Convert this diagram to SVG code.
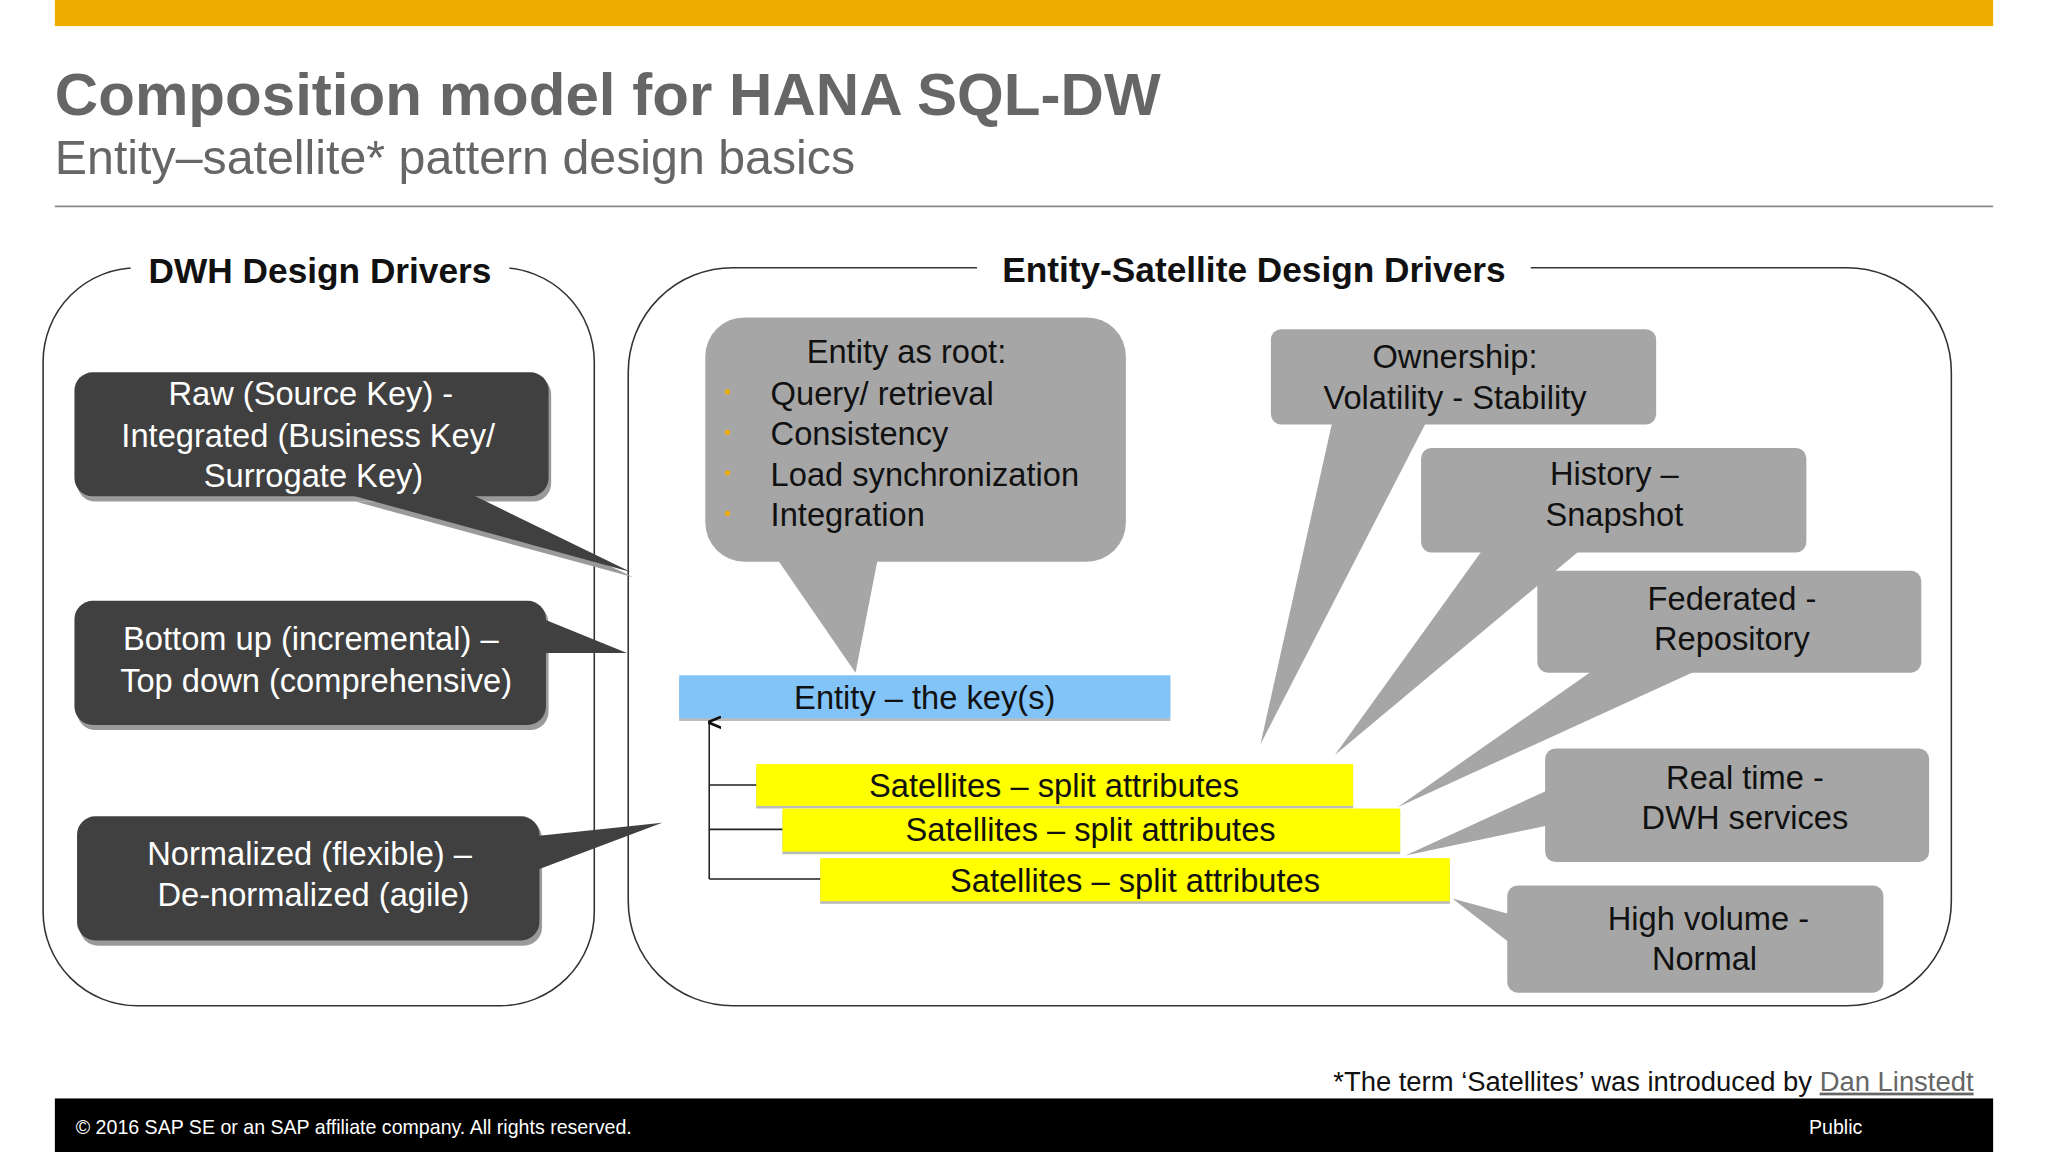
<svg xmlns="http://www.w3.org/2000/svg" width="2048" height="1152" viewBox="0 0 2048 1152">
<style>
text{font-family:"Liberation Sans",Arial,sans-serif}
.dk{fill:#404040}
.sh{fill:#9a9a9a}
.gr{fill:#a6a6a6}
.wt{fill:#fff;font-size:25px;text-anchor:middle}
.bt{fill:#111;font-size:25px;text-anchor:middle}
.frame{fill:none;stroke:#333;stroke-width:1.2}
.hd{font-size:27px;font-weight:bold;fill:#111;text-anchor:middle}
.cn{fill:none;stroke:#222;stroke-width:1.2}
</style>
<defs>
<marker id="ah" markerWidth="10" markerHeight="10" refX="5" refY="1" orient="auto" markerUnits="userSpaceOnUse">
<path d="M0,12 L5,0 L10,12" fill="none" stroke="#111" stroke-width="2"/>
</marker>
</defs>
<rect width="2048" height="1152" fill="#fff"/>
<g transform="scale(1.30612)">
<rect x="42" y="0" width="1484" height="20" fill="#F0AB00"/>
<text x="42" y="88" font-size="46" font-weight="bold" fill="#666">Composition model for HANA SQL-DW</text>
<text x="42" y="133" font-size="37" fill="#666">Entity–satellite* pattern design basics</text>
<line x1="42" y1="158" x2="1526" y2="158" stroke="#888" stroke-width="1.5"/>

<g id="frame-left">
<rect class="frame" x="33" y="205" width="422" height="565" rx="72"/>
<rect x="100" y="192" width="290" height="30" fill="#fff"/>
<text class="hd" x="245" y="217">DWH Design Drivers</text>
</g>
<g id="frame-right">
<rect class="frame" x="481" y="205" width="1013" height="565" rx="80"/>
<rect x="748" y="192" width="424" height="30" fill="#fff"/>
<text class="hd" x="960" y="216">Entity-Satellite Design Drivers</text>
</g>

<g id="raw">
<rect class="sh" x="59" y="288" width="363" height="96" rx="14"/>
<polygon class="sh" points="272,384 362,384 485,442"/>
<rect class="dk" x="57" y="285" width="363" height="95" rx="14"/>
<polygon class="dk" points="265,378 360,378 483,438"/>
<text class="wt" x="238" y="310">Raw (Source Key) -</text>
<text class="wt" x="236" y="342">Integrated (Business Key/</text>
<text class="wt" x="240" y="373">Surrogate Key)</text>
</g>
<g id="bottomup">
<rect class="sh" x="59" y="463" width="361" height="96" rx="14"/>
<rect class="dk" x="57" y="460" width="361" height="95" rx="14"/>
<polygon class="dk" points="416,474 416,500 480,500"/>
<text class="wt" x="238" y="498">Bottom up (incremental) –</text>
<text class="wt" x="242" y="530">Top down (comprehensive)</text>
</g>
<g id="normalized">
<rect class="sh" x="61" y="628" width="354" height="96" rx="14"/>
<rect class="dk" x="59" y="625" width="354" height="95" rx="14"/>
<polygon class="dk" points="411,640 411,666 507,630"/>
<text class="wt" x="237" y="662">Normalized (flexible) –</text>
<text class="wt" x="240" y="694">De-normalized (agile)</text>
</g>

<g id="entity-root">
<rect class="gr" x="540" y="243" width="322" height="187" rx="30"/>
<polygon class="gr" points="595,428 672,428 655,515"/>
<text class="bt" x="694" y="278">Entity as root:</text>
<g font-size="25" fill="#111">
<text x="590" y="310">Query/ retrieval</text>
<text x="590" y="341">Consistency</text>
<text x="590" y="372">Load synchronization</text>
<text x="590" y="403">Integration</text>
</g>
<g fill="#F0AB00"><circle cx="557" cy="300" r="2"/><circle cx="557" cy="331" r="2"/><circle cx="557" cy="362" r="2"/><circle cx="557" cy="393" r="2"/></g>
</g>
<g id="ownership">
<rect class="gr" x="973" y="252" width="295" height="73" rx="8"/>
<polygon class="gr" points="1020,323 1092,323 965,570"/>
<text class="bt" x="1114" y="282">Ownership:</text>
<text class="bt" x="1114" y="313">Volatility - Stability</text>
</g>
<g id="history">
<rect class="gr" x="1088" y="343" width="295" height="80" rx="8"/>
<polygon class="gr" points="1135,421 1210,421 1022,578"/>
<text class="bt" x="1236" y="371">History –</text>
<text class="bt" x="1236" y="403">Snapshot</text>
</g>
<g id="federated">
<rect class="gr" x="1177" y="437" width="294" height="78" rx="8"/>
<polygon class="gr" points="1220,513 1300,513 1070,618"/>
<text class="bt" x="1326" y="467">Federated -</text>
<text class="bt" x="1326" y="498">Repository</text>
</g>
<g id="realtime">
<rect class="gr" x="1183" y="573" width="294" height="87" rx="8"/>
<polygon class="gr" points="1185,605 1185,632 1076,655"/>
<text class="bt" x="1336" y="604">Real time -</text>
<text class="bt" x="1336" y="635">DWH services</text>
</g>
<g id="highvolume">
<rect class="gr" x="1154" y="678" width="288" height="82" rx="8"/>
<polygon class="gr" points="1156,700 1156,722 1112,688"/>
<text class="bt" x="1308" y="712">High volume -</text>
<text class="bt" x="1305" y="743">Normal</text>
</g>

<g id="entity">
<rect x="520" y="519" width="376" height="33" fill="#bbb"/>
<rect x="520" y="517" width="376" height="33" fill="#82C4F8"/>
<text class="bt" x="708" y="543">Entity – the key(s)</text>
</g>
<g id="sat1">
<rect x="579" y="587" width="457" height="32" fill="#bbb"/>
<rect x="579" y="585" width="457" height="32" fill="#FFFF00"/>
<text class="bt" x="807" y="610">Satellites – split attributes</text>
</g>
<g id="sat2">
<rect x="599" y="621" width="473" height="33" fill="#bbb"/>
<rect x="599" y="619" width="473" height="33" fill="#FFFF00"/>
<text class="bt" x="835" y="644">Satellites – split attributes</text>
</g>
<g id="sat3">
<rect x="628" y="659" width="482" height="33" fill="#bbb"/>
<rect x="628" y="657" width="482" height="33" fill="#FFFF00"/>
<text class="bt" x="869" y="683">Satellites – split attributes</text>
</g>

<g id="connectors">
<path class="cn" d="M543,673 L543,553" marker-end="url(#ah)"/>
<path class="cn" d="M543,601 H579 M543,635 H599 M543,673 H628"/>
</g>

<text x="1511" y="835" font-size="21" fill="#111" text-anchor="end">*The term ‘Satellites’ was introduced by <tspan fill="#666" text-decoration="underline">Dan Linstedt</tspan></text>
<rect x="42" y="841" width="1484" height="41" fill="#000"/>
<text x="58" y="868" font-size="15" fill="#fff">© 2016 SAP SE or an SAP affiliate company. All rights reserved.</text>
<text x="1385" y="868" font-size="15" fill="#fff">Public</text>
</g>
</svg>
